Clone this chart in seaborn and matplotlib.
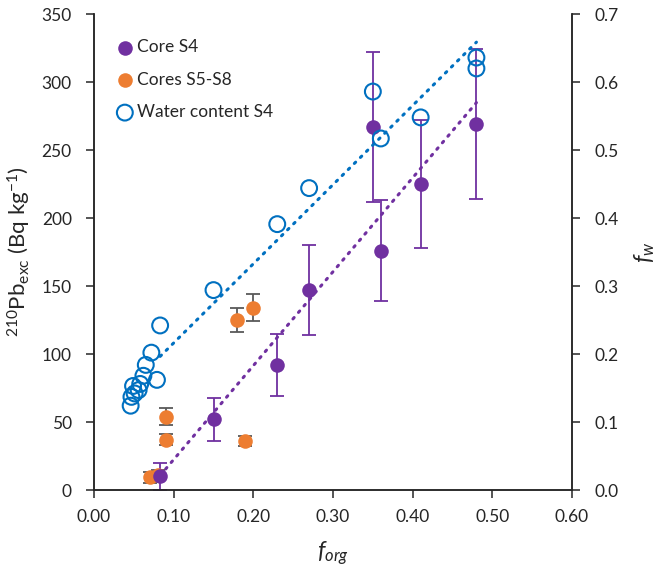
import numpy as np
import pandas as pd
import matplotlib
matplotlib.use("Agg")
import matplotlib.pyplot as plt
import seaborn as sns

# Core S4: f_org vs 210Pb_exc with error
s4_forg = [0.083, 0.15, 0.23, 0.27, 0.35, 0.36, 0.41, 0.48]
s4_pb = [10, 52, 92, 147, 267, 176, 225, 269]
s4_err = [10, 16, 23, 33, 55, 37, 47, 55]

# Cores S5-S8
s58_forg = [0.070, 0.080, 0.090, 0.090, 0.19, 0.18, 0.20]
s58_pb = [9.5, 11, 54, 37, 36, 125, 134]
s58_err = [4, 4, 6, 4, 4, 9, 10]

# Water content S4 (right axis)
w_forg = [0.046, 0.047, 0.051, 0.049, 0.056, 0.058, 0.062, 0.065, 0.072, 0.079,
          0.083, 0.15, 0.23, 0.27, 0.35, 0.36, 0.41, 0.48, 0.48]
w_fw = [0.124, 0.137, 0.142, 0.153, 0.147, 0.156, 0.168, 0.184, 0.202, 0.162,
        0.242, 0.294, 0.391, 0.444, 0.586, 0.517, 0.548, 0.636, 0.620]

PURPLE = "#7030A0"
ORANGE = "#ED7D31"
BLUE = "#0070C0"

sns.set_style("ticks")
plt.rcParams["font.family"] = ["Lato", "DejaVu Sans"]
plt.rcParams["mathtext.fontset"] = "custom"
plt.rcParams["mathtext.rm"] = "Lato"
plt.rcParams["mathtext.it"] = "Lato:italic"

fig = plt.figure(figsize=(6.56, 5.75), dpi=100)
ax = fig.add_axes([0.1433, 0.1478, 0.7287, 0.8278])
ax2 = ax.twinx()

s4 = pd.DataFrame({"forg": s4_forg, "pb": s4_pb})
s58 = pd.DataFrame({"forg": s58_forg, "pb": s58_pb})
w = pd.DataFrame({"forg": w_forg, "fw": w_fw})

# error bars
ax.errorbar(s58_forg, s58_pb, yerr=s58_err, fmt="none", ecolor="#595959",
            elinewidth=1.3, capsize=5, capthick=1.3, zorder=2)
ax.errorbar(s4_forg, s4_pb, yerr=s4_err, fmt="none", ecolor=PURPLE,
            elinewidth=1.3, capsize=5, capthick=1.3, zorder=2)

sns.scatterplot(data=s58, x="forg", y="pb", ax=ax, color=ORANGE, s=110,
                edgecolor=ORANGE, linewidth=0, zorder=3, label="Cores S5-S8")
sns.scatterplot(data=s4, x="forg", y="pb", ax=ax, color=PURPLE, s=110,
                edgecolor=PURPLE, linewidth=0, zorder=4, label="Core S4")

# trend lines (linear fits)
xr = np.array([min(s4_forg), max(s4_forg)])
k, b = np.polyfit(s4_forg, s4_pb, 1)
ax.plot(xr, k * xr + b, color=PURPLE, lw=2.2, linestyle=(0, (0.6, 2.2)),
        dash_capstyle="round", zorder=1)

sns.scatterplot(data=w, x="forg", y="fw", ax=ax2, marker="o", s=130,
                facecolor="none", edgecolor=BLUE, linewidth=1.5, zorder=3,
                label="Water content S4")
k2, b2 = np.polyfit(w_forg, w_fw, 1)
ax2.plot(xr, k2 * xr + b2, color=BLUE, lw=2.2, linestyle=(0, (0.6, 2.2)),
         dash_capstyle="round", zorder=1)

ax.set_xlim(0, 0.6)
ax.set_ylim(0, 350)
ax2.set_ylim(0, 0.7)
ax.set_xticks(np.arange(0, 0.61, 0.1))
ax.set_xticklabels([f"{v:.2f}" for v in np.arange(0, 0.61, 0.1)])
ax.set_yticks(np.arange(0, 351, 50))
ax2.set_yticks(np.arange(0, 0.71, 0.1))
ax2.set_yticklabels([f"{v:.1f}" for v in np.arange(0, 0.71, 0.1)])

for a in (ax, ax2):
    a.spines["top"].set_visible(False)
    for s in a.spines.values():
        s.set_linewidth(1.1)
    a.tick_params(length=6, width=1.1, labelsize=12.5, direction="out")
ax.tick_params(axis="x", pad=8)
ax.tick_params(axis="y", pad=10)
ax2.tick_params(axis="y", pad=10)

ax.set_xlabel("$\\mathit{f_{org}}$", fontsize=17, labelpad=10)
ax.set_ylabel("$\\mathregular{^{210}Pb_{exc}}$ (Bq kg$\\mathregular{^{-1}}$)",
              fontsize=16, labelpad=6)
ax2.set_ylabel("$\\mathit{f_w}$", fontsize=17, labelpad=10)

h1, l1 = ax.get_legend_handles_labels()
h2, l2 = ax2.get_legend_handles_labels()
order = [l1.index("Core S4"), l1.index("Cores S5-S8")]
handles = [h1[i] for i in order] + h2
labels = [l1[i] for i in order] + l2
ax2.get_legend().remove() if ax2.get_legend() else None
ax.get_legend().remove() if ax.get_legend() else None
ax2.legend(handles, labels, loc="upper left", bbox_to_anchor=(0.01, 0.98),
           frameon=False, fontsize=12.5, labelspacing=0.95, handletextpad=0.1,
           markerscale=1.0, handlelength=1.2)

fig.savefig("out.png", dpi=100)
